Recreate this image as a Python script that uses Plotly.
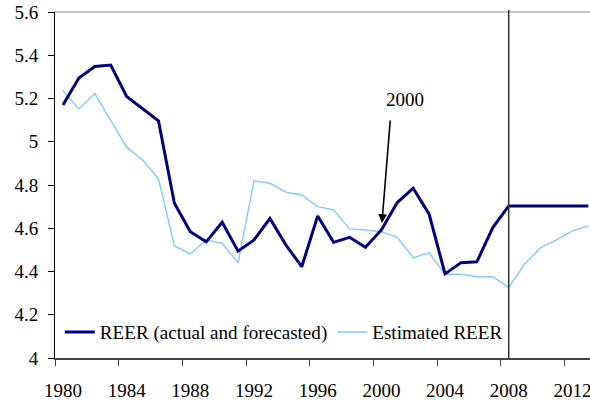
import plotly.graph_objects as go

years = list(range(1980, 2014))
reer_actual = [5.170, 5.295, 5.348, 5.355, 5.209, 5.155, 5.097, 4.716, 4.584, 4.537,
               4.628, 4.494, 4.546, 4.645, 4.523, 4.422, 4.657, 4.535, 4.558, 4.512,
               4.592, 4.719, 4.785, 4.665, 4.389, 4.441, 4.445, 4.603, 4.703, 4.703,
               4.703, 4.703, 4.703, 4.703]
reer_estimated = [5.237, 5.151, 5.223, 5.100, 4.975, 4.916, 4.828, 4.518, 4.481, 4.546,
                  4.530, 4.441, 4.819, 4.808, 4.767, 4.754, 4.700, 4.685, 4.597, 4.592,
                  4.584, 4.558, 4.464, 4.487, 4.387, 4.387, 4.376, 4.376, 4.327, 4.435,
                  4.510, 4.546, 4.588, 4.611]
x_tick_years = [1980, 1984, 1988, 1992, 1996, 2000, 2004, 2008, 2012]
y_ticks = [4.0, 4.2, 4.4, 4.6, 4.8, 5.0, 5.2, 5.4, 5.6]
y_tick_text = ["4", "4.2", "4.4", "4.6", "4.8", "5", "5.2", "5.4", "5.6"]
forecast_start = 2008
marked_year = 2000

FONT = "Liberation Serif"
tick_font = dict(family=FONT, size=19, color="black")

fig = go.Figure()
fig.add_trace(go.Scatter(x=years, y=reer_estimated, mode="lines", name="Estimated REER",
                         line=dict(color="#80CAFF", width=1.4), legendrank=2))
fig.add_trace(go.Scatter(x=years, y=reer_actual, mode="lines", name="REER (actual and forecasted)",
                         line=dict(color="#000080", width=3), legendrank=1))

fig.add_shape(type="line", xref="paper", yref="paper", x0=0, x1=1, y0=1, y1=1,
              line=dict(color="#8a8a8a", width=1))
fig.add_shape(type="line", xref="x", yref="paper", x0=forecast_start, x1=forecast_start,
              y0=0, y1=1.006, line=dict(color="#333333", width=1.5))

i2000 = years.index(marked_year)
fig.add_annotation(x=marked_year, y=reer_actual[i2000], text="", showarrow=True,
                   ax=9, ay=-111, standoff=7, arrowhead=2, arrowsize=1.1, arrowwidth=1.6,
                   arrowcolor="black")
fig.add_annotation(x=2001.5, y=5.194, text="2000", showarrow=False,
                   font=dict(family=FONT, size=19, color="black"))

fig.update_layout(
    width=590, height=400,
    margin=dict(l=55, r=0, t=12, b=42),
    paper_bgcolor="white", plot_bgcolor="white",
    font=dict(family=FONT, size=19, color="black"),
    showlegend=True,
    legend=dict(orientation="h", x=0.009, xanchor="left", y=0.02, yanchor="bottom",
                bgcolor="rgba(0,0,0,0)", font=dict(family=FONT, size=19.1, color="black"),
                itemwidth=30, tracegroupgap=0),
)
fig.update_xaxes(range=[1979.5, 1979.5 + 535 / 15.92], showgrid=False, zeroline=False,
                 tickmode="array", tickvals=[y - 0.5 for y in x_tick_years],
                 ticktext=[str(y) for y in x_tick_years], ticklabelshift=8,
                 ticklabeloverflow="allow", tickfont=tick_font,
                 ticks="outside", ticklen=6, tickcolor="#444444", tickwidth=1,
                 showline=True, linecolor="#444444", linewidth=1.5, ticklabelstandoff=8)
fig.update_yaxes(range=[4, 5.6], showgrid=False, zeroline=False,
                 tickmode="array", tickvals=y_ticks, ticktext=y_tick_text, tickfont=tick_font,
                 ticks="outside", ticklen=6, tickcolor="black", tickwidth=1,
                 showline=True, linecolor="black", linewidth=1, ticklabelstandoff=6)

fig.write_html("out.html", config={"displayModeBar": False},
               post_script="document.body.style.margin='0px';document.body.style.overflow='hidden';")
